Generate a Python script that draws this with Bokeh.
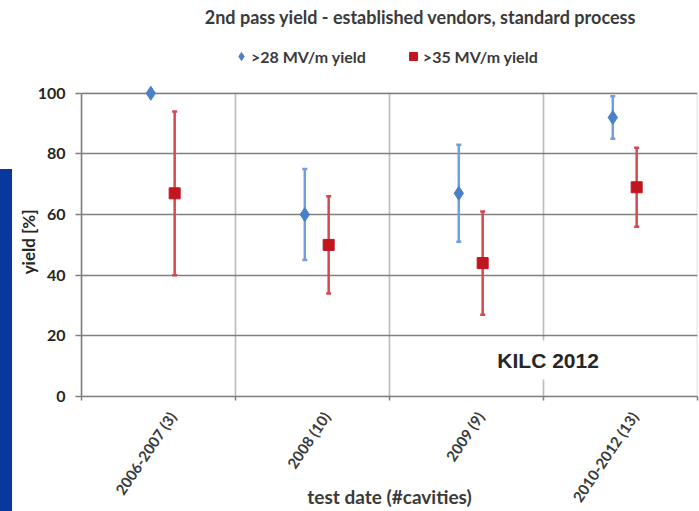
import math
from bokeh.plotting import figure
from bokeh.models import (ColumnDataSource, FixedTicker, Legend, LegendItem, Label,
                          Range1d, Div, BoxAnnotation)
from bokeh.layouts import row
from bokeh.embed import file_html
from bokeh.resources import INLINE

categories = ["2006-2007 (3)", "2008 (10)", "2009 (9)", "2010-2012 (13)"]
yield28 = [100, 60, 67, 92]
yield28_low = [100, 45, 51, 85]
yield28_high = [100, 75, 83, 99]
yield35 = [67, 50, 44, 69]
yield35_low = [40, 34, 27, 56]
yield35_high = [94, 66, 61, 82]
y_ticks = [0, 20, 40, 60, 80, 100]
Y_MAX = 100

n = len(categories)
centers = [i + 0.5 for i in range(n)]
OFF28 = -0.05
OFF35 = 0.105
LABEL_SHIFT = 0.09

# layout in pixels
FIG_W, FIG_H = 687, 511
BORDER_L, BORDER_R, BORDER_B = 69, 2, 114
AXIS_TOP_PX = 93                      # pixel row of the 100 % gridline
frame_h = FIG_H - BORDER_B
px_per_unit = (frame_h - AXIS_TOP_PX) / Y_MAX
y_top = frame_h / px_per_unit         # frame reaches to the top of the canvas
cat_px = (FIG_W - BORDER_L - BORDER_R) / n

FONT = "Lato"
TXT = "#3a3a3a"
GRID = "#7f7f7f"

src28 = ColumnDataSource(dict(x=[c + OFF28 for c in centers], y=yield28,
                              lo=yield28_low, hi=yield28_high))
src35 = ColumnDataSource(dict(x=[c + OFF35 for c in centers], y=yield35,
                              lo=yield35_low, hi=yield35_high))

p = figure(width=FIG_W, height=FIG_H, output_backend="svg", toolbar_location=None,
           title=None, x_range=Range1d(0, n), y_range=Range1d(0, y_top),
           min_border_left=BORDER_L, min_border_right=BORDER_R, min_border_top=0,
           min_border_bottom=BORDER_B)
p.outline_line_color = None

# plot-area cells (grid bounded to 0..100 %)
for i in range(n):
    p.add_layout(BoxAnnotation(left=i, right=i + 1, bottom=0, top=Y_MAX,
                               fill_alpha=0, line_color=GRID, line_width=1.6,
                               level="underlay"))

# error bars
c28_bar = "#6f9fdc"
c28 = "#4a80c8"
c35_bar = "#d4484f"
c35 = "#c1161f"
p.segment(x0="x", y0="lo", x1="x", y1="hi", source=src28, line_color=c28_bar, line_width=2.5)
p.scatter(x="x", y="hi", source=src28, marker="dash", size=5, line_color=c28_bar, line_width=2.5)
p.scatter(x="x", y="lo", source=src28, marker="dash", size=5, line_color=c28_bar, line_width=2.5)
p.segment(x0="x", y0="lo", x1="x", y1="hi", source=src35, line_color=c35_bar, line_width=2.5)
p.scatter(x="x", y="hi", source=src35, marker="dash", size=5, line_color=c35_bar, line_width=2.5)
p.scatter(x="x", y="lo", source=src35, marker="dash", size=5, line_color=c35_bar, line_width=2.5)

r28 = p.scatter(x="x", y="y", source=src28, marker="diamond", size=14,
                fill_color=c28, line_color=c28)
r35 = p.scatter(x="x", y="y", source=src35, marker="square", size=11,
                fill_color=c35, line_color=c35)

legend = Legend(items=[LegendItem(label=">28 MV/m yield", renderers=[r28]),
                       LegendItem(label=">35 MV/m yield", renderers=[r35])],
                orientation="horizontal", location=(150, 330))
legend.label_text_font = FONT
legend.label_text_font_size = "16px"
legend.label_text_font_style = "bold"
legend.label_text_color = TXT
legend.glyph_width = 20
legend.glyph_height = 20
legend.label_height = 16
legend.label_standoff = 0
legend.spacing = 37
legend.border_line_color = None
legend.background_fill_alpha = 0
legend.padding = 2
legend.margin = 0
p.add_layout(legend, "center")

title = Label(x=(420 - 81) / cat_px, y=(frame_h - 17) / px_per_unit,
              text="2nd pass yield - established vendors, standard process",
              text_font=FONT, text_font_size="18px", text_font_style="bold",
              text_color=TXT, text_align="center", text_baseline="middle")
p.add_layout(title)

# axes
p.xaxis.ticker = FixedTicker(ticks=[c + LABEL_SHIFT for c in centers],
                             minor_ticks=list(range(n + 1)))
p.xaxis.major_label_overrides = {c + LABEL_SHIFT: lab for c, lab in zip(centers, categories)}
p.xaxis.major_label_orientation = math.radians(56)
p.xaxis.major_tick_line_color = None
p.xaxis.minor_tick_line_color = GRID
p.xaxis.minor_tick_line_width = 1.5
p.xaxis.minor_tick_out = 4
p.xaxis.minor_tick_in = 0
p.xaxis.major_label_text_font = FONT
p.xaxis.major_label_text_font_size = "15px"
p.xaxis.major_label_text_font_style = "bold"
p.xaxis.major_label_text_color = TXT
p.xaxis.major_label_standoff = 11
p.xaxis.axis_label = "test date (#cavities)"
p.xaxis.axis_label_text_font = FONT
p.xaxis.axis_label_text_font_size = "19px"
p.xaxis.axis_label_text_font_style = "bold"
p.xaxis.axis_label_text_color = TXT
p.xaxis.axis_label_standoff = -28
p.xaxis.axis_line_color = GRID
p.xaxis.axis_line_width = 1.6

p.yaxis.bounds = (0, Y_MAX)
p.yaxis.ticker = FixedTicker(ticks=y_ticks)
p.yaxis.minor_tick_line_color = None
p.yaxis.major_tick_out = 6
p.yaxis.major_tick_in = 0
p.yaxis.major_tick_line_color = GRID
p.yaxis.major_tick_line_width = 1.5
p.yaxis.axis_line_color = GRID
p.yaxis.axis_line_width = 1.6
p.yaxis.major_label_standoff = 10
p.yaxis.major_label_text_font = FONT
p.yaxis.major_label_text_font_size = "16px"
p.yaxis.major_label_text_font_style = "bold"
p.yaxis.major_label_text_color = "#262626"
# trailing no-break spaces move the visible label down to the middle of 0..100 %
p.yaxis.axis_label = "yield [%]" + "\u00a0" * 21
p.yaxis.axis_label_text_font = FONT
p.yaxis.axis_label_text_font_size = "17px"
p.yaxis.axis_label_text_font_style = "bold"
p.yaxis.axis_label_text_color = "#262626"
p.yaxis.axis_label_standoff = -4

p.xgrid.visible = False
p.ygrid.ticker = FixedTicker(ticks=y_ticks)
p.ygrid.grid_line_color = GRID
p.ygrid.grid_line_width = 1.6

kilc = Label(x=3.03, y=12, text="KILC 2012", text_align="center", text_baseline="middle",
             text_font="Liberation Sans", text_font_size="21px", text_font_style="bold",
             text_color="#262626", background_fill_color="white", padding=8)
p.add_layout(kilc)

# slide background visible at the left edge of the crop
strip = Div(text="", width=12, height=511, margin=0,
            styles={"background": "linear-gradient(to bottom, #ffffff 169px, #0a379c 169px)"})

layout = row(strip, p, spacing=0)
open("out.html", "w").write(file_html(layout, INLINE))
